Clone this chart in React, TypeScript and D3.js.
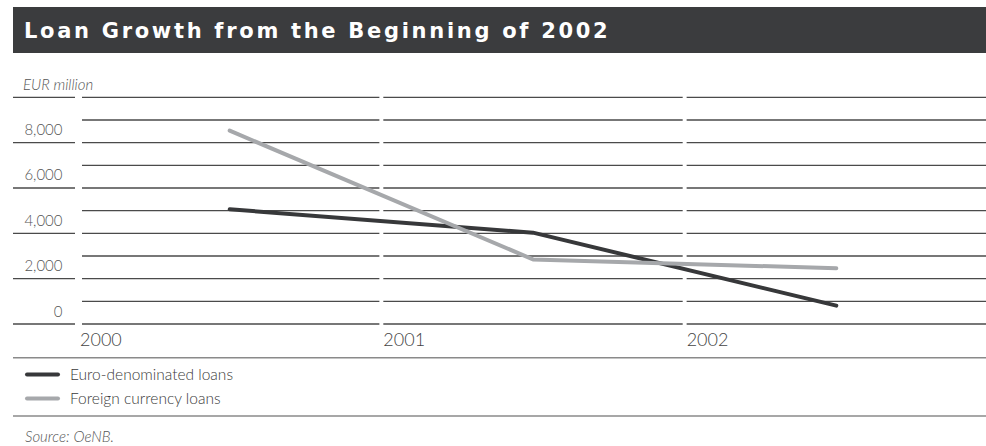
import React from "react";
import * as d3 from "d3";

const years = ["2000", "2001", "2002"];
const euroLoans = [5060, 4030, 810];
const foreignLoans = [8530, 2850, 2460];
const yLabelTicks = [0, 2000, 4000, 6000, 8000];
const gridTicks = [0, 1000, 2000, 3000, 4000, 5000, 6000, 7000, 8000, 9000, 10000];
const legendItems = ["Euro-denominated loans", "Foreign currency loans"];

const W = 986;
const H = 446;
const FONT = "Lato, 'Open Sans', sans-serif";

export default function App() {
  const x = d3.scaleBand<string>().domain(years).range([80, 986]).paddingInner(0.013).paddingOuter(0);
  const y = d3.scaleLinear().domain([0, 10000]).range([324, 97.33]);
  const line = d3
    .line<number>()
    .x((_, i) => (x(years[i]) as number) + x.bandwidth() / 2)
    .y((d) => y(d));
  const colors = ["#37383a", "#a6a8ab"];
  const series = [euroLoans, foreignLoans];
  const fmt = d3.format(",");

  return (
    <svg width={W} height={H} style={{ position: "absolute", left: 0, top: 0, background: "#fff" }}>
      <rect x={13} y={7} width={W - 13} height={46} fill="#3b3c3e" />
      <text x={24} y={38} fill="#fff" fontFamily="'DejaVu Sans', sans-serif" fontWeight="bold" fontSize={21} letterSpacing={2.7}>
        Loan Growth from the Beginning of 2002
      </text>
      <text x={23} y={90} fill="#555" fontFamily={FONT} fontStyle="italic" fontSize={15} fontWeight={300}>
        EUR million
      </text>
      {gridTicks.map((t) => (
        <g key={t}>
          {t % 2000 === 0 && (
            <line x1={13} x2={75} y1={y(t)} y2={y(t)} stroke="#4a4a4a" strokeWidth={1.3} />
          )}
          {years.map((yr) => (
            <line
              key={yr}
              x1={x(yr) as number + (yr === "2000" ? 2 : 0)}
              x2={(x(yr) as number) + x.bandwidth()}
              y1={y(t)}
              y2={y(t)}
              stroke="#4a4a4a"
              strokeWidth={1.3}
            />
          ))}
        </g>
      ))}
      {yLabelTicks.map((t) => (
        <text key={t} x={62.5} y={y(t) - 7.5} textAnchor="end" fill="#555" fontFamily={FONT} fontSize={15} fontWeight={300}>
          {fmt(t)}
        </text>
      ))}
      {years.map((yr) => (
        <text key={yr} x={x(yr) as number} y={346} fill="#444" fontFamily={FONT} fontSize={18} fontWeight={300}>
          {yr}
        </text>
      ))}
      {series.map((s, i) => (
        <path key={i} d={line(s) as string} fill="none" stroke={colors[i]} strokeWidth={4} strokeLinecap="round" strokeLinejoin="round" />
      ))}
      <line x1={13} x2={W} y1={357.7} y2={357.7} stroke="#8a8a8a" strokeWidth={1.5} />
      {legendItems.map((lbl, i) => (
        <g key={lbl}>
          <line x1={27} x2={58} y1={374.5 + i * 24} y2={374.5 + i * 24} stroke={colors[i]} strokeWidth={4} strokeLinecap="round" />
          <text x={70} y={380 + i * 24} fill="#3a3a3a" fontFamily={FONT} fontSize={15.5} fontWeight={300}>
            {lbl}
          </text>
        </g>
      ))}
      <line x1={13} x2={W} y1={416} y2={416} stroke="#8a8a8a" strokeWidth={1.5} />
      <text x={25} y={442} fill="#555" fontFamily={FONT} fontStyle="italic" fontSize={15} fontWeight={300}>
        Source: OeNB.
      </text>
    </svg>
  );
}
